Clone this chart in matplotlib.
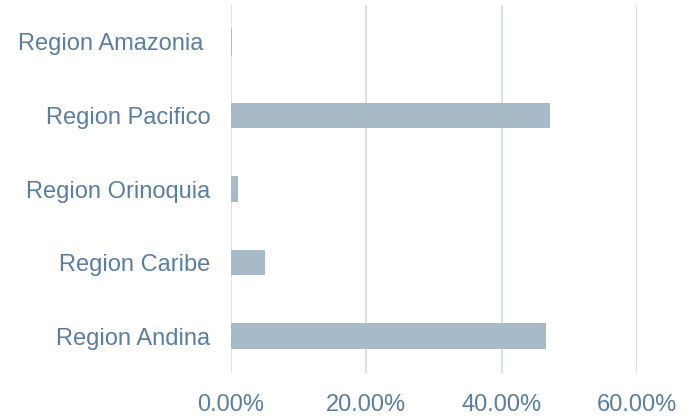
import matplotlib
matplotlib.use("Agg")
import matplotlib.pyplot as plt
from matplotlib.ticker import FuncFormatter

categories = ["Region Andina", "Region Caribe", "Region Orinoquia", "Region Pacifico", "Region Amazonia "]
values = [0.466, 0.050, 0.010, 0.472, 0.002]
xticks = [0.0, 0.2, 0.4, 0.6]

plt.rcParams['font.family'] = ['Liberation Sans', 'DejaVu Sans']
text_color = "#5b7ea3"
bar_color = "#a6bbc7"
grid_color = "#d8e2ec"

fig = plt.figure(figsize=(6.92, 4.19), dpi=100)
ax = fig.add_axes([231/692, 1-373/419, (637-231)/692, (373-5)/419])
ax.barh(range(len(categories)), values, height=0.35, color=bar_color, zorder=3)
ax.set_yticks(range(len(categories)))
ax.set_yticklabels(categories)
ax.set_ylim(-0.5, len(categories)-0.5)
ax.set_xlim(0, 0.6)
ax.set_xticks(xticks)
ax.xaxis.set_major_formatter(FuncFormatter(lambda v, p: f"{v*100:.2f}%"))
for s in ax.spines.values():
    s.set_visible(False)
ax.grid(axis='x', color=grid_color, linewidth=1.5, zorder=0)
ax.tick_params(axis='y', length=0, pad=15, labelsize=17, labelcolor=text_color)
ax.tick_params(axis='x', length=0, pad=15, labelsize=17, labelcolor=text_color)
fig.savefig("out.png", dpi=100)
